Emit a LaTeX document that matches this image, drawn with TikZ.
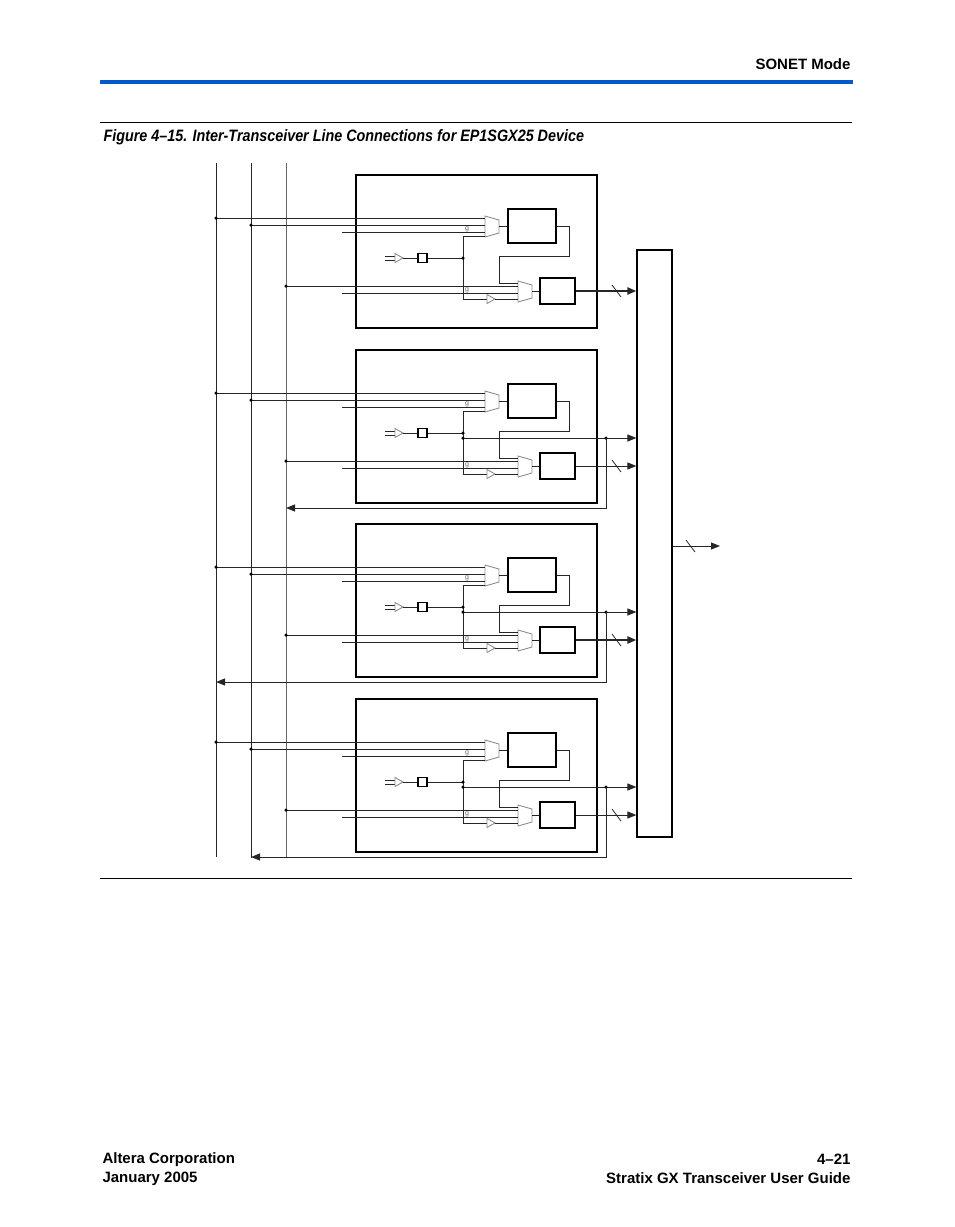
\documentclass[tikz,border=0pt]{standalone}
\usepackage{fontspec}
\setmainfont{Liberation Sans}
\usetikzlibrary{arrows.meta}
\begin{document}
\begin{tikzpicture}[x=1pt,y=-1pt,line width=1pt,
  wire/.style={draw=black!85},
  arr/.style={wire,-{Triangle[length=9pt,width=7pt]}},
  thick data/.style={line width=2.8pt},
  mux/.style={draw=black!45,line width=0.9pt},
  dotc/.style={circle,fill=black,inner sep=0pt,minimum size=3.5pt},
  lbl/.style={font=\fontsize{7}{7}\selectfont,text=black!60,inner sep=0pt}]
\useasboundingbox (0,0) rectangle (954,1227);
% header/footer
\node[anchor=east,inner sep=0pt,font=\bfseries\fontsize{15}{17}\selectfont] (hdr) at (851,64) {SONET Mode};
\draw[line width=4pt,draw={rgb,255:red,0;green,90;blue,200}] (100,82) -- (853,82);
\draw[line width=0.9pt] (100,122) -- (852,122);
\node[anchor=west,inner sep=0pt,font=\bfseries\itshape\fontsize{16.5}{18}\selectfont] (cap) at (103,137) {\scalebox{0.87}[1]{Figure 4–15. Inter-Transceiver Line Connections for EP1SGX25 Device}};
\draw[line width=0.9pt] (100,878) -- (852,878);
\node[anchor=west,inner sep=0pt,align=left,font=\bfseries\fontsize{15}{19}\selectfont] (fl) at (102,1169) {Altera Corporation\\January 2005};
\node[anchor=east,inner sep=0pt,align=right,font=\bfseries\fontsize{15}{19}\selectfont] (fr) at (851,1169) {4–21\\Stratix GX Transceiver User Guide};
% vertical buses
\coordinate (v1t) at (216,163); \coordinate (v1b) at (216,857);
\coordinate (v2t) at (251,163); \coordinate (v2b) at (251,858);
\coordinate (v3t) at (286,163); \coordinate (v3b) at (286,857);
\draw[wire] (v1t) -- (v1b);
\draw[wire] (v2t) -- (v2b);
\draw[draw=black!60] (v3t) -- (v3b);
% big box
\node[draw,line width=1.2pt,minimum width=35pt,minimum height=587pt,inner sep=0pt] (big) at (654.5,543.5) {};
\coordinate (out) at (720,546);
\draw[arr] (big.east|-out) -- (out);
\draw[wire,line width=0.8pt] (686,540) -- (695,552);
% blocks
\foreach \t/\k/\ret/\th in {175/0/0/1,350/1/286/0,524/1/216/1,699/1/251/0}{
\begin{scope}[shift={(0,\t)}]
  \node[draw,line width=1.2pt,minimum width=241pt,minimum height=153pt,inner sep=0pt] (frame) at (476.5,76.5) {};
  \node[draw,line width=1.2pt,minimum width=48pt,minimum height=34pt,inner sep=0pt] (ba) at (532,51) {};
  \node[draw,line width=1.2pt,minimum width=35pt,minimum height=26pt,inner sep=0pt] (bb) at (557.5,116) {};
  % muxes
  \draw[mux] (485,41) -- (485,62) -- (499,58) -- (499,45) -- cycle;
  \draw[mux] (518,106) -- (518,127) -- (532,123) -- (532,110) -- cycle;
  % inputs to mux1
  \draw[wire] (216,43) -- (485,43);
  \draw[wire] (251,50) -- (485,50);
  \draw[wire] (342,57) -- (485,57);
  \node[dotc] at (216,43) {}; \node[dotc] at (251,50) {};
  \node[lbl] at (467,54) {g};
  \draw[wire] (499,51) -- (ba.west);
  % feedback ba -> mux2
  \draw[wire] (ba.east|-0,51) -- (569,51) -- (569,81) -- (499,81) -- (499,108) -- (518,108);
  % inputs to mux2
  \draw[wire] (286,111) -- (518,111);
  \draw[wire] (342,118) -- (518,118);
  \node[dotc] at (286,111) {};
  \node[lbl] at (467,115) {g};
  % clock path
  \draw[wire] (485,61) -- (463,61) -- (463,124) -- (487,124);
  \draw[mux] (487,119.5) -- (487,128.5) -- (495,124) -- cycle;
  \draw[wire] (495,124) -- (518,124);
  \draw[wire] (385,81) -- (395,81); \draw[wire] (385,85) -- (395,85);
  \draw[mux] (395,78.5) -- (395,87.5) -- (403,83) -- cycle;
  \node[draw,line width=1.2pt,minimum size=9pt,inner sep=0pt] (sq) at (422.5,83) {};
  \draw[wire] (403,83) -- (sq.west);
  \draw[wire] (sq.east) -- (463,83);
  \node[dotc] at (463,83) {};
  \draw[wire] (532,116) -- (bb.west);
  % data output
  \ifnum\th=1
    \draw[arr,thick data] (bb.east) -- (big.west|-bb.east);
  \else
    \draw[arr] (bb.east) -- (big.west|-bb.east);
  \fi
  \draw[wire,line width=0.8pt] (612,110) -- (621,122);
  \ifnum\k=1
    \draw[arr] (463,88) -- (big.west|-0,88);
    \node[dotc] at (463,88) {}; \node[dotc] at (606,88) {};
    \draw[arr] (606,88) -- (606,158) -- (\ret,158);
  \fi
\end{scope}}
\end{tikzpicture}
\end{document}
